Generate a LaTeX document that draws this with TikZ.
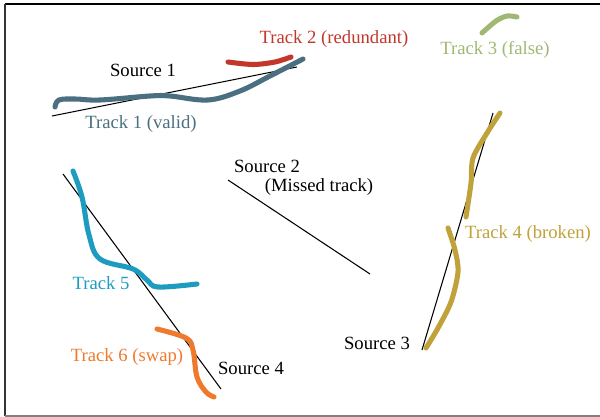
\documentclass[tikz,border=0pt]{standalone}
\usepackage{fontspec}
\setmainfont{Liberation Serif}
\usepackage{xcolor}
\usetikzlibrary{positioning,calc}

\definecolor{trkone}{HTML}{4A6F80}
\definecolor{trktwo}{HTML}{C2372A}
\definecolor{trkthree}{HTML}{A0B873}
\definecolor{trkfour}{HTML}{BFA23A}
\definecolor{trkfive}{HTML}{1E9CC0}
\definecolor{trksix}{HTML}{EF7A2E}

\tikzset{
    track/.style={line width=3.8pt, line cap=round, line join=round},
    source/.style={line width=0.8pt},
    lbl/.style={font=\fontsize{14}{16}\selectfont, inner sep=1pt}
}

\begin{document}
\begin{tikzpicture}[x=0.75pt, y=-0.75pt]
    \useasboundingbox (0,0) rectangle (600,417);
    % Frame
    \draw[line width=1.5pt] (600,4.5) -- (4.5,4.5);
    \draw[line width=1.5pt, black!80] (4.5,4.5) -- (4.5,416);
    \draw[line width=1.2pt, black!50] (4.5,416) -- (600,416);

    % Source 1 / Track 1 / Track 2
    \draw[source] (52,116) -- (297,67);
    \node[lbl] (src1) at (143,70) {Source 1};
    \draw[track, trkone] plot[smooth, tension=0.6] coordinates {(55,107) (59,100) (75,99) (100,100) (150,96) (170,96) (208,100) (240,91) (270,76) (303,59)};
    \node[lbl, text=trkone] (trk1) at (141,124) {Track 1 (valid)};
    \draw[track, trktwo] plot[smooth] coordinates {(228,62) (253,64.5) (275,62) (291,57)};
    \node[lbl, text=trktwo] (trk2) at (334,39) {Track 2 (redundant)};

    % Track 3
    \draw[track, trkthree] plot[smooth] coordinates {(482,33) (496,21) (507,16) (517,17)};
    \node[lbl, text=trkthree] (trk3) at (495,50) {Track 3 (false)};

    % Source 2
    \draw[source] (228,180) -- (370,274);
    \node[lbl] (src2) at (267,166) {Source 2};
    \node[lbl] (miss) at (319,187) {(Missed track)};

    % Source 3 / Track 4
    \draw[source] (422,350) -- (493,113);
    \node[lbl] (src3) at (377,343) {Source 3};
    \draw[track, trkfour] plot[smooth] coordinates {(500,113) (487,133) (473,158) (471,183) (466,217)};
    \draw[track, trkfour] plot[smooth] coordinates {(448,228) (455,250) (458,272) (451,302) (438,328) (426,348)};
    \node[lbl, text=trkfour] (trk4) at (528,234) {Track 4 (broken)};

    % Source 4 / Track 5 / Track 6
    \draw[source] (63,174) -- (221,389);
    \node[lbl] (src4) at (251,368) {Source 4};
    \draw[track, trkfive] plot[smooth, tension=0.6] coordinates {(73,171) (82,197) (89,235) (100,259) (133,269) (147,280) (158,287) (197,284)};
    \node[lbl, text=trkfive] (trk5) at (101,283) {Track 5};
    \draw[track, trksix] plot[smooth, tension=0.6] coordinates {(157,329) (186,338) (193,350) (197,377) (206,392) (214,397)};
    \node[lbl, text=trksix] (trk6) at (127,357) {Track 6 (swap)};
\end{tikzpicture}
\end{document}
